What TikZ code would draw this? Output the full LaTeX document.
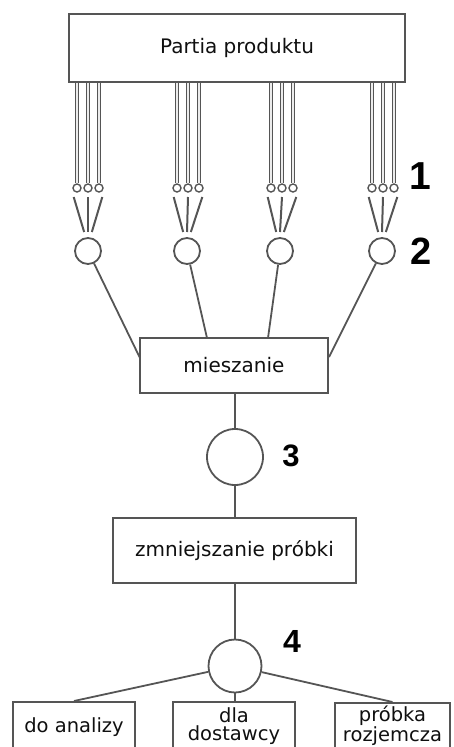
\documentclass[tikz,border=0pt]{standalone}
\usepackage{fontspec}
\setmainfont{DejaVu Sans}
\newfontfamily\numfont{Liberation Sans}
\usetikzlibrary{calc}
\definecolor{linegray}{RGB}{85,85,85}
\definecolor{txt}{RGB}{15,15,15}
\tikzset{
  box/.style={draw=linegray, line width=1.7pt, rectangle, inner sep=0pt, text=txt,
    font=\fontsize{20}{22}\selectfont, align=center},
  lbl/.style={inner sep=0pt, text=txt, font=\fontsize{19.5}{18}\selectfont, align=center},
  bigc/.style={circle, draw=linegray, line width=1.8pt, inner sep=0pt},
  smallc/.style={circle, draw=linegray, line width=1.4pt, inner sep=0pt, minimum size=8pt},
  pipe/.style={draw=linegray, line width=1.3pt, double=white!85!gray, double distance=1.2pt},
  conv/.style={draw=linegray, line width=2pt},
  conn/.style={draw=linegray, line width=1.8pt},
  num/.style={inner sep=0pt, text=black},
}
\begin{document}
\begin{tikzpicture}[x=1pt,y=-1pt]
\useasboundingbox (0,0) rectangle (454,747);
\clip (0,0) rectangle (454,747);
% top box
\node[box, minimum width=336pt, minimum height=68pt] (part) at (237,48) {Partia produktu};
% groups
\foreach \c/\m [count=\i] in {88/88,188/187,282/280,383/382} {
  \node[bigc, minimum size=26pt] (c\i) at (\m,251) {};
  \foreach \d [count=\j] in {-11,0,11} {
    \node[smallc] (s\i\j) at (\c+\d,188) {};
    \draw[pipe] (s\i\j |- part.south) -- (s\i\j.north);
    \coordinate (t\i\j) at (\c+\d*1.3,197);
    \coordinate (v\i\j) at (\m+\d*0.35,232);
    \draw[conv] (t\i\j) -- (v\i\j);
  }
}
% mixing
\node[box, minimum width=188pt, minimum height=55pt] (mix) at (234,365.5) {mieszanie};
\coordinate (m1) at (140,358);
\coordinate (m2) at (207,338);
\coordinate (m3) at (268,338);
\coordinate (m4) at (329,357);
\foreach \i in {1,...,4} { \draw[conn] (c\i) -- (m\i); }
% circle 3
\node[bigc, minimum size=56pt] (c5) at (235,457) {};
\draw[conn] (c5 |- mix.south) -- (c5.north);
% reduction
\node[box, minimum width=243pt, minimum height=65pt] (red) at (234.5,550.5) {zmniejszanie próbki};
\draw[conn] (c5.south) -- (c5.south |- red.north);
% circle 4
\node[bigc, minimum size=53pt] (c6) at (235,666) {};
\draw[conn] (c6 |- red.south) -- (c6.north);
% bottom boxes
\node[box, minimum width=122pt, minimum height=80pt, anchor=north] (b1) at (74,701) {};
\node[box, minimum width=122pt, minimum height=80pt, anchor=north] (b2) at (234,701) {};
\node[box, minimum width=115pt, minimum height=80pt, anchor=north] (b3) at (392.5,702) {};
\node[lbl] (l1) at (74,727) {do analizy};
\node[lbl] (l2) at (234,726) {dla\\dostawcy};
\node[lbl] (l3) at (392.5,726) {próbka\\rozjemcza};
\draw[conn] (c6) -- (b1.north);
\draw[conn] (c6.south) -- (c6.south |- b2.north);
\draw[conn] (c6) -- (b3.north);
% numbers
\node[num, font=\numfont\bfseries\fontsize{39}{39}\selectfont] (n1) at (420,176) {1};
\node[num, font=\numfont\bfseries\fontsize{38}{38}\selectfont] (n2) at (421,251.5) {2};
\node[num, font=\numfont\bfseries\fontsize{31}{31}\selectfont] (n3) at (291,456) {3};
\node[num, font=\numfont\bfseries\fontsize{32}{32}\selectfont] (n4) at (292,641.5) {4};
\end{tikzpicture}
\end{document}
